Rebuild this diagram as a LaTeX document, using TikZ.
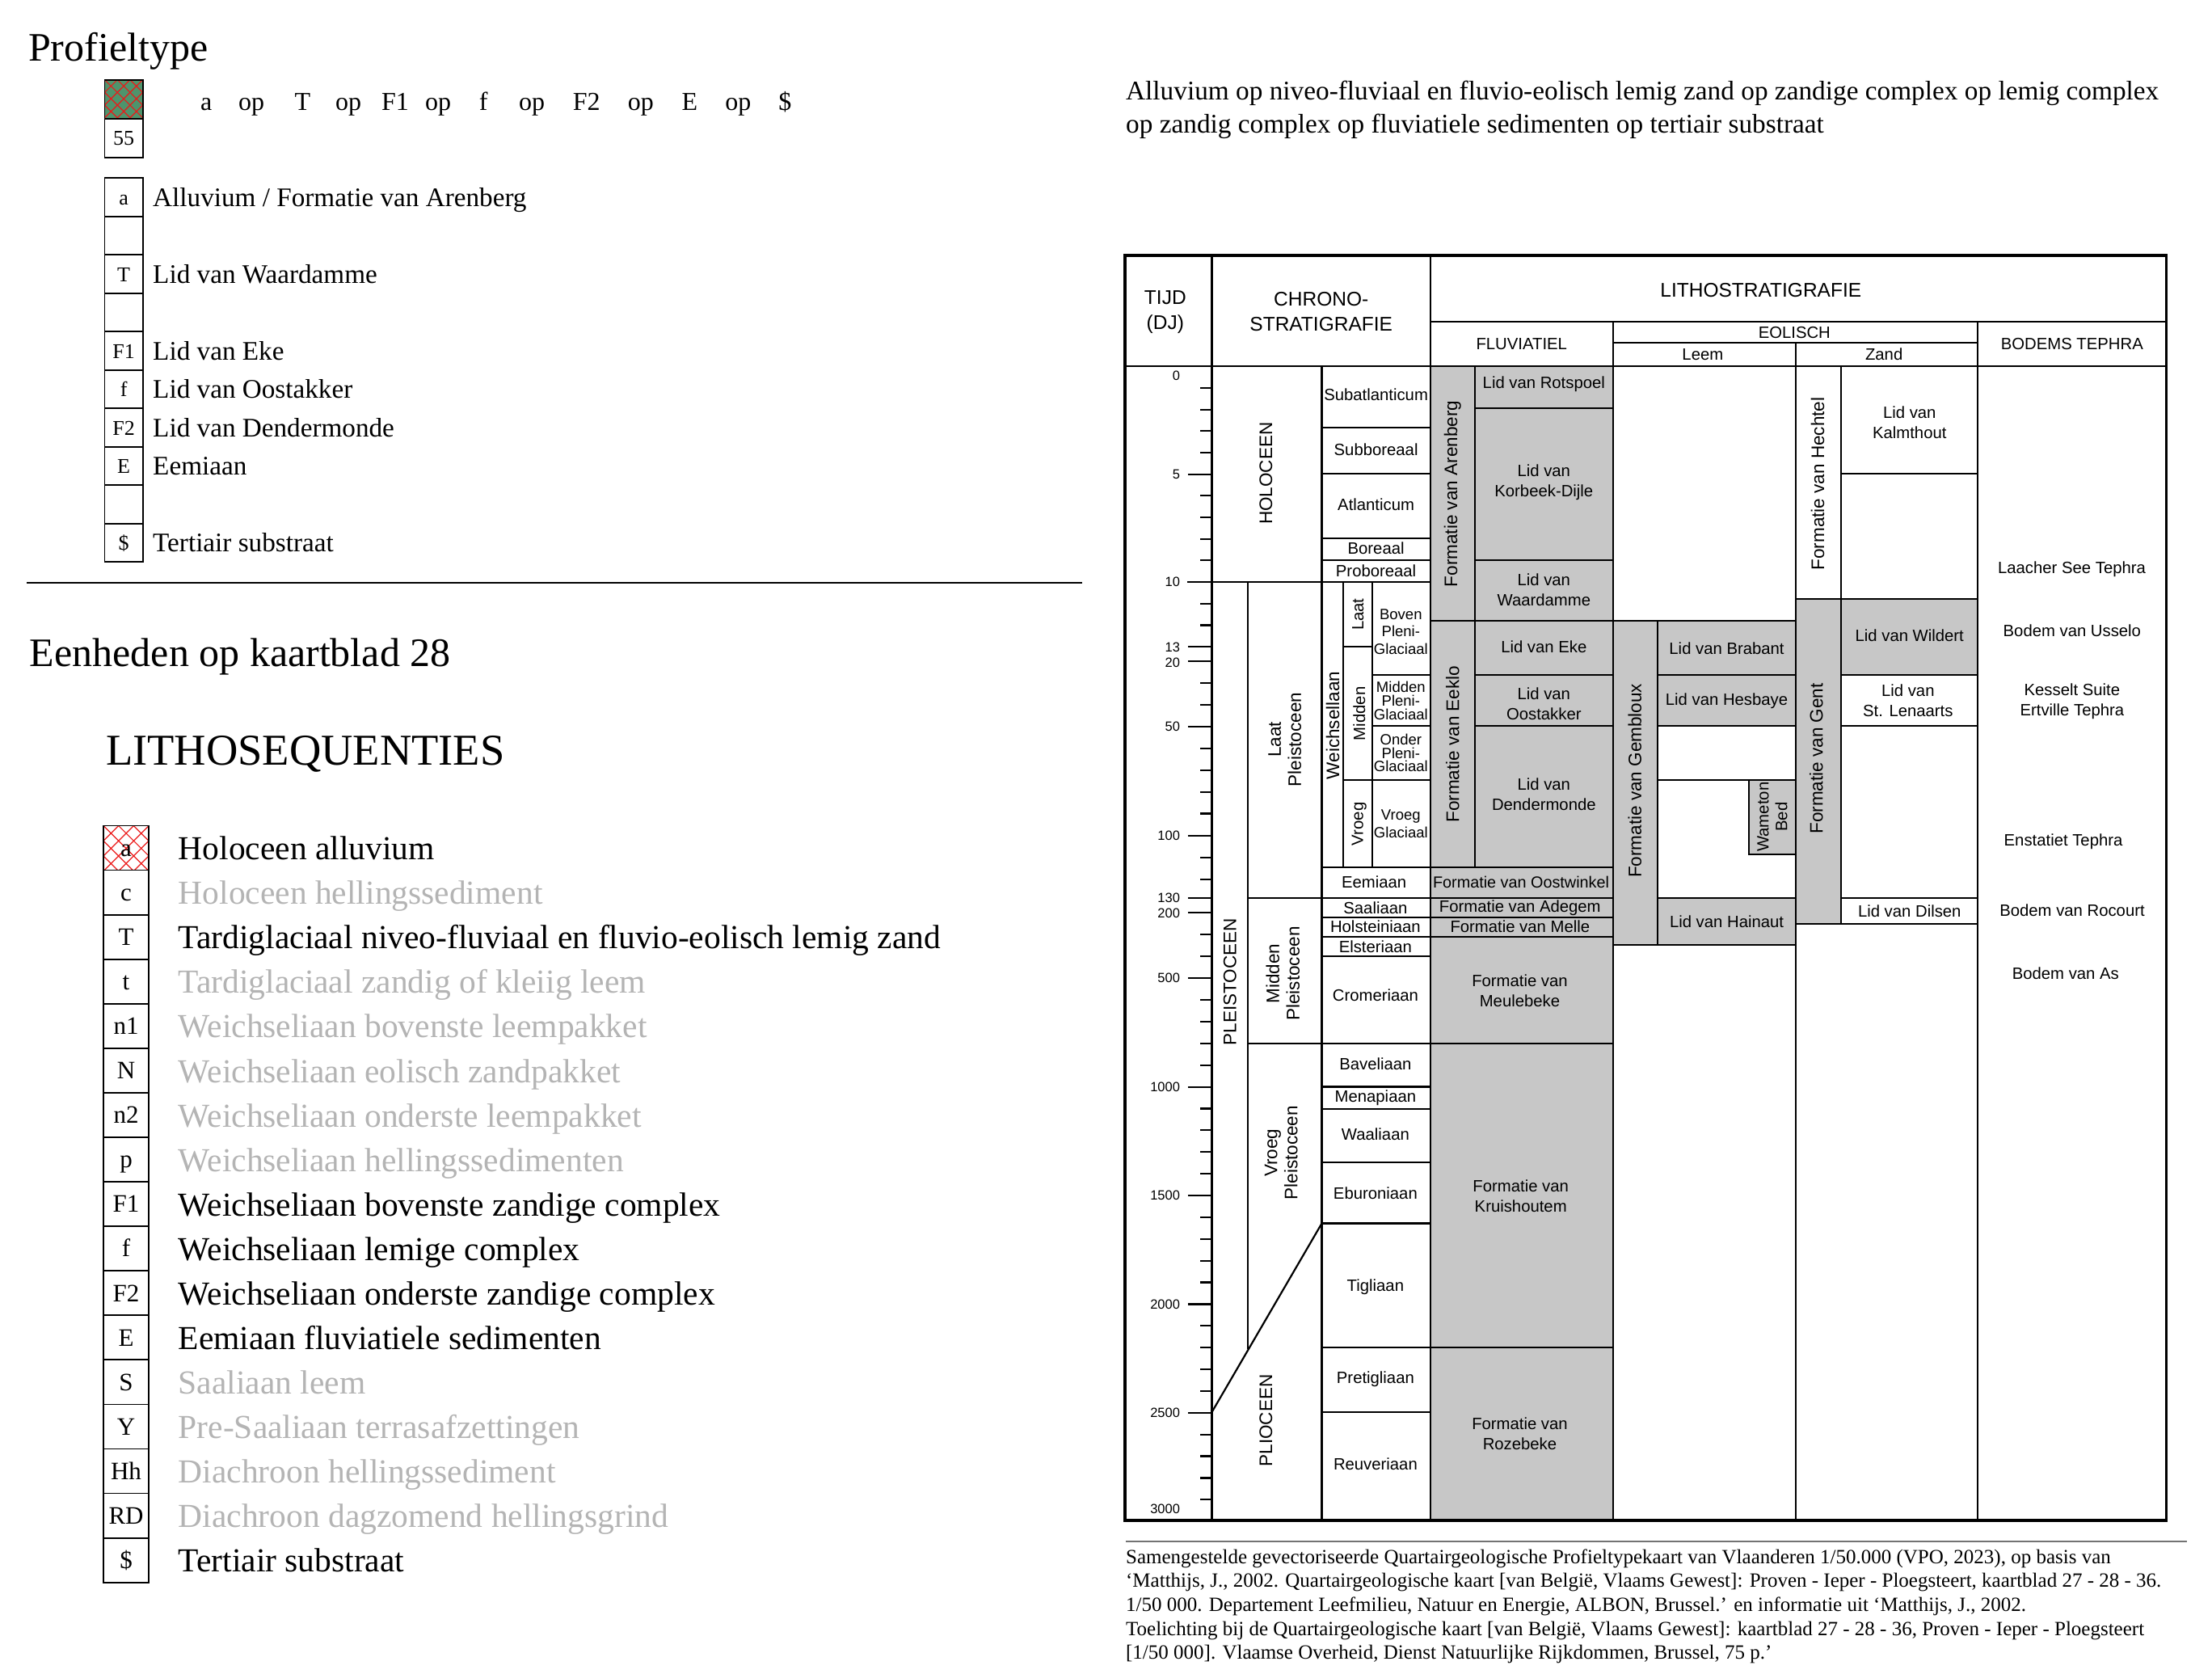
\documentclass[tikz,border=0pt]{standalone}
\usepackage{fontspec}
\setmainfont{Liberation Serif}
\newfontfamily\arialf{Liberation Sans}
\newcommand\fz[2]{\fontsize{#1}{#2}\selectfont}
\definecolor{fg}{RGB}{199,199,199}
\definecolor{lg}{RGB}{180,180,180}
\definecolor{pg}{RGB}{78,148,108}
\definecolor{pr}{RGB}{235,25,25}
\begin{document}
\begin{tikzpicture}[x=1.7455pt,y=-1.7455pt,
  cl/.style={line width=2.2pt, line cap=rect},
  bl/.style={line width=1.8pt},
  ch/.style={font=\arialf\fz{20.3}{25}, align=center, inner sep=0pt},
  chs/.style={font=\arialf\fz{18.5}{16.8}, align=center, inner sep=0pt},
  chb/.style={font=\arialf\fz{18.5}{21.5}, align=center, inner sep=0pt},
  rot/.style={font=\arialf\fz{22.5}{25}, align=center, inner sep=0pt, rotate=90},
  rots/.style={font=\arialf\fz{20.3}{23}, align=center, inner sep=0pt, rotate=90},
  hd/.style={font=\arialf\fz{24.5}{31}, align=center, inner sep=0pt},
  tk/.style={font=\arialf\fz{16.5}{18}, anchor=east, inner sep=0pt},
  lab/.style={font=\fz{33.2}{38}, anchor=base west, inner sep=0pt},
  big/.style={font=\fz{41.5}{48}, anchor=base west, inner sep=0pt},
  bx/.style={font=\fz{26}{30}, anchor=base, inner sep=0pt},
  bx2/.style={font=\fz{31}{36}, anchor=base, inner sep=0pt},
  seqtxt/.style={font=\fz{32}{38}, anchor=base, inner sep=0pt},
  captxt/.style={font=\fz{25}{30}, anchor=base west, inner sep=0pt},
]
\useasboundingbox (0,0) rectangle (1568,1186);

% ================= LEFT: Profieltype =================
\node[anchor=base west, inner sep=0pt, font=\fz{50}{57}] (ttl) at (20,43.4) {Profieltype};

\begin{scope}
  \clip (74.2,56.5) rectangle (101.2,84.1);
  \fill[pg] (74.2,56.5) rectangle (101.2,84.1);
  \foreach \k in {-3,...,3}{
    \draw[pr,line width=1.2pt] (74.2+9*\k,56.5) -- ++(27.6,27.6);
    \draw[pr,line width=1.2pt] (101.2-9*\k,56.5) -- ++(-27.6,27.6);
  }
\end{scope}
\draw[bl] (74.2,56.5) rectangle (101.2,84.1);
\draw[bl] (74.2,84.1) rectangle (101.2,111.7);
\node[font=\fz{26}{30}, inner sep=0pt] (n55) at (87.7,97.9) {55};

\foreach \x/\t [count=\n] in {146.2/a,178.3/op,214.5/T,247/op,280.2/F1,310.6/op,342.7/f,377/op,415.8/F2,454.2/op,488.9/E,523.2/op,556.5/\$}
  \node[seqtxt] (sq\n) at (\x,78.3) {\t};

\foreach \r/\c/\t in {0/a/{Alluvium / Formatie van Arenberg},1//,2/T/{Lid van Waardamme},3//,4/F1/{Lid van Eke},5/f/{Lid van Oostakker},6/F2/{Lid van Dendermonde},7/E/{Eemiaan},8//,9/\$/{Tertiair substraat}}{
  \pgfmathsetmacro\yt{126.2+27.2*\r}
  \pgfmathsetmacro\yc{\yt+13.6}
  \draw[bl] (74.2,\yt) rectangle (101.2,\yt+27.2);
  \node[bx] (lb\r) at (87.7,\yc+5.3) {\c};
  \node[lab] (lt\r) at (108.3,\yc+6.5) {\t};
}

\draw[line width=1.8pt] (19,413) -- (767,413);

% ================= LEFT: Eenheden =================
\node[anchor=base west, inner sep=0pt, font=\fz{50}{58}] (een) at (21,472.5) {Eenheden op kaartblad 28};
\node[anchor=base west, inner sep=0pt, font=\fz{54.5}{62}] (lseq) at (75,542.3) {LITHOSEQUENTIES};

\begin{scope}
  \clip (73.3,585.2) rectangle (105.5,616.75);
  \foreach \k in {-4,...,4}{
    \draw[pr,line width=1.2pt] (73.3+10.7*\k,585.2) -- ++(32,32);
    \draw[pr,line width=1.2pt] (105.5-10.7*\k,585.2) -- ++(-32,32);
  }
\end{scope}

\foreach \r/\c/\t/\col in {0/a/Holoceen alluvium/black,1/c/Holoceen hellingssediment/lg,2/T/Tardiglaciaal niveo-fluviaal en fluvio-eolisch lemig zand/black,3/t/Tardiglaciaal zandig of kleiig leem/lg,4/n1/Weichseliaan bovenste leempakket/lg,5/N/Weichseliaan eolisch zandpakket/lg,6/n2/Weichseliaan onderste leempakket/lg,7/p/Weichseliaan hellingssedimenten/lg,8/F1/Weichseliaan bovenste zandige complex/black,9/f/Weichseliaan lemige complex/black,10/F2/Weichseliaan onderste zandige complex/black,11/E/Eemiaan fluviatiele sedimenten/black,12/S/Saaliaan leem/lg,13/Y/Pre-Saaliaan terrasafzettingen/lg,14/Hh/Diachroon hellingssediment/lg,15/RD/Diachroon dagzomend hellingsgrind/lg,16/\$/Tertiair substraat/black}{
  \pgfmathsetmacro\yt{585.2+31.55*\r}
  \pgfmathsetmacro\yc{\yt+15.78}
  \draw[bl] (73.3,\yt) rectangle (105.5,\yt+31.55);
  \node[bx2] (sb\r) at (89.4,\yc+5.9) {\c};
  \node[big,text=\col] (st\r) at (126.4,\yc+8.4) {\t};
}

% ================= RIGHT: header text =================
\node[anchor=base west, inner sep=0pt, font=\fz{33.3}{40}] (h1) at (798,71) {Alluvium op niveo-fluviaal en fluvio-eolisch lemig zand op zandige complex op lemig complex};
\node[anchor=base west, inner sep=0pt, font=\fz{33.3}{40}] (h2) at (798,94) {op zandig complex op fluviatiele sedimenten op tertiair substraat};

% ================= CHART fills =================
\fill[fg] (1013.8,259.7) rectangle (1143.5,1077.6);
\fill[fg] (1143.5,440) rectangle (1175.2,669.9);
\fill[fg] (1175.2,440) rectangle (1273,514.5);
\fill[fg] (1239.6,552.8) rectangle (1273,605.4);
\fill[fg] (1175.2,636.5) rectangle (1273,669.9);
\fill[fg] (1273,424.5) rectangle (1305,654.7);
\fill[fg] (1305,424.5) rectangle (1401.9,478.4);

% ================= CHART lines =================
\draw[cl] (797.5,259.7) -- (1535.4,259.7);
\draw[cl] (859,181) -- (859,1077.6);
\draw[cl] (1013.8,181) -- (1013.8,1077.6);
\draw[cl] (1013.8,228) -- (1535.4,228);
\draw[cl] (1143.5,228) -- (1143.5,1077.6);
\draw[cl] (1401.9,228) -- (1401.9,1077.6);
\draw[cl] (1143.5,243.1) -- (1401.9,243.1);
\draw[cl] (1273,243.1) -- (1273,1077.6);

% chrono
\draw[cl] (937,259.7) -- (937,1077.6);
\foreach \yy in {303,335.5,381.6,396.8}
  \draw[cl] (937,\yy) -- (1013.8,\yy);
\draw[cl] (842,412.5) -- (1013.8,412.5);
\draw[cl] (884.6,412.5) -- (884.6,955.7);
\draw[cl] (952.3,412.5) -- (952.3,614.9);
\draw[cl] (972.7,412.5) -- (972.7,614.9);
\draw[cl] (952.3,458.5) -- (972.7,458.5);
\draw[cl] (972.7,478.4) -- (1013.8,478.4);
\draw[cl] (972.7,514.5) -- (1013.8,514.5);
\draw[cl] (952.3,552.8) -- (1013.8,552.8);
\draw[cl] (937,614.9) -- (1143.5,614.9);
\draw[cl] (884.6,636.5) -- (1143.5,636.5);
\draw[cl] (937,650.4) -- (1143.5,650.4);
\draw[cl] (937,664) -- (1143.5,664);
\draw[cl] (937,677.6) -- (1013.8,677.6);
\draw[cl] (884.6,739.6) -- (1143.5,739.6);
\foreach \yy in {770.2,786.2,824,867}
  \draw[cl] (937,\yy) -- (1013.8,\yy);
\draw[cl] (937,954.8) -- (1143.5,954.8);
\draw[cl] (937,1000.9) -- (1013.8,1000.9);
\draw[cl] (937,867) -- (859,1000.9);

% fluviatiel
\draw[cl] (1045.6,259.7) -- (1045.6,614.9);
\draw[cl] (1045.6,289.3) -- (1143.5,289.3);
\draw[cl] (1045.6,396.8) -- (1143.5,396.8);
\draw[cl] (1013.8,440) -- (1273,440);
\draw[cl] (1045.6,478.4) -- (1143.5,478.4);
\draw[cl] (1045.6,514.5) -- (1143.5,514.5);

% eolisch leem
\draw[cl] (1175.2,440) -- (1175.2,669.9);
\draw[cl] (1175.2,478.4) -- (1273,478.4);
\draw[cl] (1175.2,514.5) -- (1273,514.5);
\draw[cl] (1175.2,552.8) -- (1273,552.8);
\draw[cl] (1239.6,552.8) -- (1239.6,605.4) -- (1273,605.4);
\draw[cl] (1175.2,636.5) -- (1273,636.5);
\draw[cl] (1143.5,669.9) -- (1273,669.9);

% eolisch zand
\draw[cl] (1305,259.7) -- (1305,654.7);
\draw[cl] (1305,335.5) -- (1401.9,335.5);
\draw[cl] (1273,424.5) -- (1401.9,424.5);
\draw[cl] (1305,478.4) -- (1401.9,478.4);
\draw[cl] (1305,514.5) -- (1401.9,514.5);
\draw[cl] (1305,636.5) -- (1401.9,636.5);
\draw[cl] (1273,654.7) -- (1401.9,654.7);

% ticks
\foreach \yy in {275,290.3,305.5,320.8,351.4,366.7,381.9,397.2,427.8,443.1,484.2,499.6,530.4,545.8,561.2,576.6,607.8,623.1,662.2,677.7}
  \draw[cl,line cap=butt] (850.8,\yy) -- (859,\yy);
\foreach \t in {6,7,8,9,11,12,13,14,16,17,18,19,21,22,23,24,26,27,28,29}
  \draw[cl,line cap=butt] (850.8,{693.3+(\t-5)*15.4}) -- (859,{693.3+(\t-5)*15.4});
\foreach \yy in {336.1,458.5,468.8,515,592.4,636.5,646.8,693.3,770.3,847.3,924.3,1001.3}
  \draw[cl,line cap=butt] (842,\yy) -- (859,\yy);
\foreach \yy/\lb in {266.5/0,336.1/5,412.5/10,458.5/13,469.5/20,515/50,592.4/100,636.2/130,647.5/200,693.3/500,770.3/1000,847.3/1500,924.3/2000,1001.3/2500,1069.4/3000}
  \node[tk] (tl\lb) at (836.5,\yy) {\lb};

% outer border
\draw[line width=3.2pt] (797.5,181) rectangle (1535.4,1077.6);

% ================= CHART texts =================
\node[hd] (tijd) at (826,221) {TIJD\\(DJ)};
\node[hd] (chrono) at (936.5,221) {CHRONO-\\STRATIGRAFIE};
\node[hd] (litho) at (1248.2,205.7) {LITHOSTRATIGRAFIE};
\node[ch] (fluv) at (1078.6,243.9) {FLUVIATIEL};
\node[ch] (eol) at (1272,235.5) {EOLISCH};
\node[ch] (leem) at (1207,251.3) {Leem};
\node[ch] (zand) at (1335.5,251.3) {Zand};
\node[ch] (bodh) at (1468.8,243.5) {BODEMS TEPHRA};

\node[rot] (holo) at (897.4,335.6) {HOLOCEEN};
\node[ch] (subat) at (975.4,279.7) {Subatlanticum};
\node[ch] (subbo) at (975.4,318.9) {Subboreaal};
\node[ch] (atl) at (975.4,357.5) {Atlanticum};
\node[ch] (bor) at (975.4,388.6) {Boreaal};
\node[ch] (prob) at (975.4,404.5) {Proboreaal};
\node[rot] (laatp) at (910.7,524.2) {Laat\\Pleistoceen};
\node[rot] (weich) at (944.7,514.2) {Weichsellaan};
\node[rots] (wlaat) at (962.6,435.5) {Laat};
\node[rots] (wmid) at (963.5,505.8) {Midden};
\node[rots] (wvro) at (963.5,584) {Vroeg};
\node[chb] (bpg) at (993,447.7) {Boven\\Pleni-\\Glaciaal};
\node[chs] (mpg) at (993,496.6) {Midden\\Pleni-\\Glaciaal};
\node[chs] (opg) at (993,533.6) {Onder\\Pleni-\\Glaciaal};
\node[chb] (vgl) at (993,583.9) {Vroeg\\Glaciaal};
\node[ch] (eem) at (974,625.4) {Eemiaan};
\node[ch] (saal) at (975,643.6) {Saaliaan};
\node[ch] (hols) at (975,656.9) {Holsteiniaan};
\node[ch] (elst) at (975,671) {Elsteriaan};
\node[ch] (crom) at (975,705.2) {Cromeriaan};
\node[rot] (midp) at (909.4,690) {Midden\\Pleistoceen};
\node[rot] (pleis) at (871.8,696) {PLEISTOCEEN};
\node[rot] (vrop) at (908.2,817) {Vroeg\\Pleistoceen};
\node[ch] (bav) at (975,754.3) {Baveliaan};
\node[ch] (men) at (975,778.4) {Menapiaan};
\node[ch] (waal) at (975,804.1) {Waaliaan};
\node[ch] (ebur) at (975,845.6) {Eburoniaan};
\node[ch] (tigl) at (975,912.2) {Tigliaan};
\node[ch] (pret) at (975,977.2) {Pretigliaan};
\node[ch] (reuv) at (975,1037.9) {Reuveriaan};
\node[rot] (plio) at (897.4,1006.9) {PLIOCEEN};

\node[rot] (aren) at (1029.7,350) {Formatie van Arenberg};
\node[ch] (rots) at (1094.4,272.1) {Lid van Rotspoel};
\node[ch] (korb) at (1094.4,341.8) {Lid van\\Korbeek-Dijle};
\node[ch] (waar) at (1094.4,418.2) {Lid van\\Waardamme};
\node[rot] (eeklo) at (1029.6,527.5) {Formatie van Eeklo};
\node[ch] (eke) at (1094.4,458.3) {Lid van Eke};
\node[ch] (oost) at (1094.4,498.9) {Lid van\\Oostakker};
\node[ch] (dend) at (1094.4,562.8) {Lid van\\Dendermonde};
\node[ch,font=\arialf\fz{19.8}{24}] (oostw) at (1078.2,625.4) {Formatie van Oostwinkel};
\node[ch] (adeg) at (1077.5,643.5) {Formatie van Adegem};
\node[ch] (melle) at (1077.5,656.9) {Formatie van Melle};
\node[ch] (meul) at (1077.3,702.3) {Formatie van\\Meulebeke};
\node[ch] (kruis) at (1078,847.6) {Formatie van\\Kruishoutem};
\node[ch] (roze) at (1077.3,1016.2) {Formatie van\\Rozebeke};

\node[rot] (gemb) at (1158.8,553.3) {Formatie van Gembloux};
\node[ch] (brab) at (1224,459.5) {Lid van Brabant};
\node[ch] (hesb) at (1224,497) {Lid van Hesbaye};
\node[rots] (wam) at (1256.3,579) {Wameton\\Bed};
\node[ch] (hain) at (1224,653.5) {Lid van Hainaut};
\node[rot] (hech) at (1288.5,342.8) {Formatie van Hechtel};
\node[ch] (kalm) at (1353.6,299.4) {Lid van\\Kalmthout};
\node[rot] (gent) at (1287.5,537.6) {Formatie van Gent};
\node[ch] (wild) at (1353.6,450.3) {Lid van Wildert};
\node[ch] (stl) at (1352.5,496.5) {Lid van\\St. Lenaarts};
\node[ch] (dils) at (1353.6,645.5) {Lid van Dilsen};

\node[ch] (lst) at (1468.6,403.3) {Laacher See Tephra};
\node[ch] (uss) at (1468.8,446.9) {Bodem van Usselo};
\node[ch] (kes) at (1468.8,496.9) {Kesselt Suite\\Ertville Tephra};
\node[ch] (enst) at (1462.6,596.8) {Enstatiet Tephra};
\node[ch] (roc) at (1468.9,645) {Bodem van Rocourt};
\node[ch] (as) at (1464.2,689.9) {Bodem van As};

% ================= caption =================
\draw[line width=1.8pt, black!55] (798,1092.7) -- (1550,1092.7);
\node[captxt] (c1) at (798,1108) {Samengestelde gevectoriseerde Quartairgeologische Profieltypekaart van Vlaanderen 1/50.000 (VPO, 2023), op basis van};
\node[captxt] (c2) at (798,1125) {‘Matthijs, J., 2002. Quartairgeologische kaart [van België, Vlaams Gewest]: Proven - Ieper - Ploegsteert, kaartblad 27 - 28 - 36.};
\node[captxt] (c3) at (798,1142) {1/50 000. Departement Leefmilieu, Natuur en Energie, ALBON, Brussel.’ en informatie uit ‘Matthijs, J., 2002.};
\node[captxt] (c4) at (798,1159) {Toelichting bij de Quartairgeologische kaart [van België, Vlaams Gewest]: kaartblad 27 - 28 - 36, Proven - Ieper - Ploegsteert};
\node[captxt] (c5) at (798,1176) {[1/50 000]. Vlaamse Overheid, Dienst Natuurlijke Rijkdommen, Brussel, 75 p.’};
\end{tikzpicture}
\end{document}
